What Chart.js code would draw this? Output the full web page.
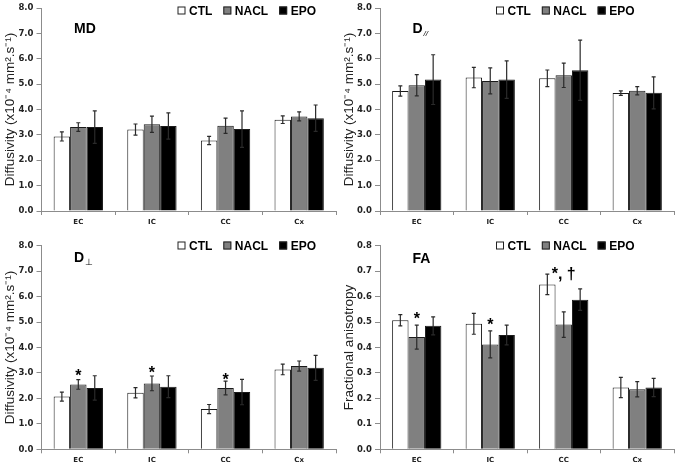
<!DOCTYPE html>
<html>
<head>
<meta charset="utf-8">
<script src="https://cdn.jsdelivr.net/npm/chart.js@4.4.1/dist/chart.umd.min.js"></script>
<style>
  body { margin: 0; background: #fff; }
  canvas { position: absolute; }
  #md { left: 0; top: 0; }
  #dpar { left: 339px; top: 0; }
  #dperp { left: 0; top: 235px; }
  #fa { left: 339px; top: 235px; }
</style>
</head>
<body>
<canvas id="md" width="339" height="235"></canvas>
<canvas id="dpar" width="339" height="235"></canvas>
<canvas id="dperp" width="339" height="234"></canvas>
<canvas id="fa" width="339" height="234"></canvas>
<script>
// regions and groups
const CATEGORIES = ['EC', 'IC', 'CC', 'Cx'];
const GROUPS = ['CTL', 'NACL', 'EPO'];
const GROUP_COLOURS = ['#ffffff', '#808080', '#000000'];

// MD (x10-4 mm2/s), mean and error
const MD_CTL = [2.94, 3.21, 2.78, 3.60];
const MD_CTL_ERR = [0.18, 0.22, 0.16, 0.15];
const MD_NACL = [3.31, 3.42, 3.36, 3.73];
const MD_NACL_ERR = [0.17, 0.32, 0.30, 0.18];
const MD_EPO = [3.31, 3.35, 3.23, 3.66];
const MD_EPO_ERR = [0.64, 0.52, 0.72, 0.52];

// axial diffusivity
const DPAR_CTL = [4.73, 5.26, 5.23, 4.65];
const DPAR_CTL_ERR = [0.20, 0.40, 0.33, 0.09];
const DPAR_NACL = [4.96, 5.13, 5.35, 4.74];
const DPAR_NACL_ERR = [0.42, 0.51, 0.48, 0.16];
const DPAR_EPO = [5.18, 5.18, 5.55, 4.66];
const DPAR_EPO_ERR = [0.98, 0.74, 1.19, 0.63];

// radial diffusivity
const DPERP_CTL = [2.07, 2.22, 1.58, 3.14];
const DPERP_CTL_ERR = [0.18, 0.20, 0.18, 0.21];
const DPERP_NACL = [2.55, 2.59, 2.41, 3.27];
const DPERP_NACL_ERR = [0.19, 0.29, 0.27, 0.20];
const DPERP_EPO = [2.41, 2.46, 2.25, 3.20];
const DPERP_EPO_ERR = [0.48, 0.43, 0.50, 0.49];
const DPERP_MARKS = ['*', '*', '*', ''];
const DPERP_MARK_Y = [3.05, 3.14, 2.88, null];

// fractional anisotropy
const FA_CTL = [0.507, 0.493, 0.648, 0.243];
const FA_CTL_ERR = [0.022, 0.041, 0.040, 0.040];
const FA_NACL = [0.441, 0.412, 0.490, 0.236];
const FA_NACL_ERR = [0.047, 0.053, 0.050, 0.030];
const FA_EPO = [0.485, 0.449, 0.588, 0.243];
const FA_EPO_ERR = [0.035, 0.039, 0.042, 0.036];
const FA_MARKS = ['*', '*', '*, \u2020', ''];
const FA_MARK_Y = [0.529, 0.506, 0.704, null];

const DIFF_TITLE = 'Diffusivity (x10\u207B\u2074 mm\u00B2.s\u207B\u00B9)';
const SANS = '"Liberation Sans", Arial, sans-serif';

// error bars drawn on top of each bar
const errorBars = {
  id: 'errorBars',
  afterDatasetsDraw(chart) {
    const { ctx, scales: { y } } = chart;
    ctx.save();
    ctx.strokeStyle = '#2a2a2a';
    ctx.lineWidth = 1.2;
    chart.data.datasets.forEach((ds, i) => {
      chart.getDatasetMeta(i).data.forEach((bar, j) => {
        const v = ds.data[j], e = ds.errors[j];
        const top = y.getPixelForValue(v + e);
        const bot = y.getPixelForValue(v - e);
        ctx.beginPath();
        ctx.moveTo(bar.x, top); ctx.lineTo(bar.x, bot);
        ctx.moveTo(bar.x - 2, top); ctx.lineTo(bar.x + 2, top);
        ctx.moveTo(bar.x - 2, bot); ctx.lineTo(bar.x + 2, bot);
        ctx.stroke();
      });
    });
    ctx.restore();
  }
};

// significance marks above the NACL bars
const sigMarks = {
  id: 'sigMarks',
  afterDatasetsDraw(chart, args, o) {
    if (!o.marks) return;
    const { ctx, scales: { y } } = chart;
    const meta = chart.getDatasetMeta(1);
    ctx.save();
    ctx.fillStyle = '#000';
    ctx.font = 'bold 16px ' + SANS;
    ctx.textAlign = 'center';
    ctx.textBaseline = 'alphabetic';
    o.marks.forEach((m, j) => {
      if (!m) return;
      ctx.fillText(m, meta.data[j].x, y.getPixelForValue(o.markY[j]) + 9);
    });
    ctx.restore();
  }
};

// panel label and legend inside the plot
const panelDecor = {
  id: 'panelDecor',
  afterDraw(chart, args, o) {
    const { ctx, chartArea } = chart;
    ctx.save();
    ctx.fillStyle = '#000';
    ctx.textAlign = 'left';
    ctx.textBaseline = 'alphabetic';
    ctx.font = 'bold 14px ' + SANS;
    const tx = chartArea.left + 32.5;
    ctx.fillText(o.title, tx, o.titleY);
    if (o.sub) {
      const w = ctx.measureText(o.title).width;
      ctx.font = o.subFont;
      ctx.fillText(o.sub, tx + w + 1, o.titleY + o.subDy);
    }
    ctx.font = 'bold 12px ' + SANS;
    let x = chartArea.left + o.legendX;
    const base = 14.5;
    chart.data.datasets.forEach(ds => {
      ctx.fillStyle = ds.backgroundColor;
      ctx.fillRect(x, base - 8, 8, 8);
      ctx.strokeStyle = '#222';
      ctx.lineWidth = 1;
      ctx.strokeRect(x + 0.5, base - 7.5, 7, 7);
      x += 11.5;
      ctx.fillStyle = '#000';
      ctx.fillText(ds.label, x, base);
      x += ctx.measureText(ds.label).width + 11;
    });
    ctx.restore();
  }
};

function makeDatasets(values, errors) {
  return GROUPS.map((g, i) => ({
    label: g,
    data: values[i],
    errors: errors[i],
    backgroundColor: GROUP_COLOURS[i],
    borderColor: '#1a1a1a',
    borderWidth: 1,
    categoryPercentage: 0.67,
    barPercentage: 1.0,
  }));
}

function renderPanel(id, cfg) {
  return new Chart(document.getElementById(id), {
    type: 'bar',
    data: { labels: CATEGORIES, datasets: makeDatasets(cfg.values, cfg.errors) },
    plugins: [errorBars, sigMarks, panelDecor],
    options: {
      responsive: false,
      devicePixelRatio: 1,
      animation: false,
      layout: { padding: { top: cfg.padTop, right: cfg.padRight, bottom: 0, left: 0 } },
      plugins: {
        legend: { display: false },
        tooltip: { enabled: false },
        sigMarks: { marks: cfg.marks, markY: cfg.markY },
        panelDecor: cfg.decor,
      },
      scales: {
        x: {
          afterFit: s => { s.height = cfg.xHeight; },
          grid: { drawOnChartArea: false, drawTicks: true, tickLength: 4, color: '#8c8c8c' },
          border: { color: '#8c8c8c', width: 1 },
          ticks: { padding: 3, color: '#222', font: { family: 'DejaVu Sans', weight: 'bold', size: 7 } },
        },
        y: {
          min: 0,
          max: cfg.max,
          afterFit: s => { s.width = cfg.yWidth; },
          grid: { drawOnChartArea: false, drawTicks: true, tickLength: 5, color: '#8c8c8c' },
          border: { color: '#8c8c8c', width: 1 },
          ticks: {
            stepSize: cfg.step,
            padding: 3,
            color: '#222',
            font: { family: 'DejaVu Sans', weight: 'bold', size: 8.5 },
            callback: v => Number(v).toFixed(1),
          },
          title: {
            display: true,
            text: cfg.yTitle,
            color: '#222',
            padding: { top: 2, bottom: 0 },
            font: { family: 'Liberation Sans', size: 13.5 },
          },
        },
      },
    },
  });
}

renderPanel('md', {
  values: [MD_CTL, MD_NACL, MD_EPO],
  errors: [MD_CTL_ERR, MD_NACL_ERR, MD_EPO_ERR],
  max: 8, step: 1, yTitle: DIFF_TITLE,
  padTop: 6.7, padRight: 3, xHeight: 24, yWidth: 41.5,
  decor: { title: 'MD', titleY: 33.3, legendX: 136 },
});

renderPanel('dpar', {
  values: [DPAR_CTL, DPAR_NACL, DPAR_EPO],
  errors: [DPAR_CTL_ERR, DPAR_NACL_ERR, DPAR_EPO_ERR],
  max: 8, step: 1, yTitle: DIFF_TITLE,
  padTop: 6.7, padRight: 4, xHeight: 24, yWidth: 41,
  decor: { title: 'D', sub: '//', subFont: 'italic 8px ' + SANS, subDy: 3, titleY: 33.3, legendX: 116 },
});

renderPanel('dperp', {
  values: [DPERP_CTL, DPERP_NACL, DPERP_EPO],
  errors: [DPERP_CTL_ERR, DPERP_NACL_ERR, DPERP_EPO_ERR],
  marks: DPERP_MARKS, markY: DPERP_MARK_Y,
  max: 8, step: 1, yTitle: DIFF_TITLE,
  padTop: 10.7, padRight: 3, xHeight: 19.7, yWidth: 41.5,
  decor: { title: 'D', sub: '\u22A5', subFont: '9px "DejaVu Sans"', subDy: 3, titleY: 27.3, legendX: 136 },
});

renderPanel('fa', {
  values: [FA_CTL, FA_NACL, FA_EPO],
  errors: [FA_CTL_ERR, FA_NACL_ERR, FA_EPO_ERR],
  marks: FA_MARKS, markY: FA_MARK_Y,
  max: 0.8, step: 0.1, yTitle: 'Fractional anisotropy',
  padTop: 10.7, padRight: 4, xHeight: 19.7, yWidth: 41,
  decor: { title: 'FA', titleY: 27.5, legendX: 116 },
});
</script>
</body>
</html>
